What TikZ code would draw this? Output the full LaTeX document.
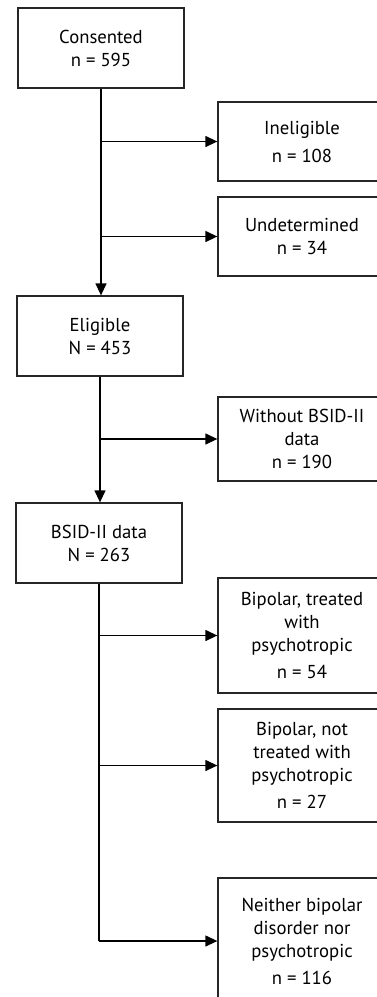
\documentclass[tikz,border=0pt]{standalone}
\usepackage{fontspec}
\setmainfont{PT Sans}
\usetikzlibrary{arrows.meta}
\begin{document}
\begin{tikzpicture}[x=1pt,y=-1pt,
  box/.style={draw=black!85, line width=1.3pt, inner sep=0pt, align=center,
    font=\fontsize{18.7}{23}\selectfont},
  lbox/.style={box, minimum width=166pt, minimum height=80pt},
  rbox/.style={box, minimum width=168pt},
  arr/.style={line width=1.3pt, -{Triangle[length=12pt,width=11pt]}},
  ln/.style={line width=1.3pt}]
\useasboundingbox (0,0) rectangle (377,997);
\clip (0,0) rectangle (377,997);
\fill[white] (0,0) rectangle (377,997);
% left boxes
\node[lbox] (cons) at (101,48) {Consented\\n = 595};
\node[lbox] (elig) at (100,336) {Eligible\\N = 453};
\node[lbox] (bsid) at (99,543) {BSID-II data\\N = 263};
% right boxes
\node[rbox, minimum height=79pt] (inel) at (302,141.5) {Ineligible\\[5pt]n = 108};
\node[rbox, minimum height=79pt] (unde) at (302,236.5) {Undetermined\\n = 34};
\node[rbox, minimum height=84pt] (with) at (302,439) {Without BSID-II\\data\\n = 190};
\node[rbox, minimum height=115pt] (btre) at (302,635.5) {Bipolar, treated\\with\\psychotropic\\[4pt]n = 54};
\node[rbox, minimum height=113pt] (bnot) at (302,765.5) {Bipolar, not\\treated with\\psychotropic\\[4pt]n = 27};
\node[rbox, minimum height=126pt] (neit) at (302,941) {Neither bipolar\\disorder nor\\psychotropic\\[4pt]n = 116};
% connectors
\draw[arr] (cons.south) -- (cons.south |- elig.north);
\draw[arr] (cons.south |- inel.west) -- (inel.west);
\draw[arr] (cons.south |- unde.west) -- (unde.west);
\draw[arr] (elig.south) -- (elig.south |- bsid.north);
\draw[arr] (elig.south |- with.west) -- (with.west);
\coordinate (bend) at (bsid.south |- neit.west);
\draw[ln] (bsid.south) -- (bend);
\draw[arr] (bend) -- (neit.west);
\draw[arr] (bsid.south |- btre.west) -- (btre.west);
\draw[arr] (bsid.south |- bnot.west) -- (bnot.west);
\end{tikzpicture}
\end{document}
